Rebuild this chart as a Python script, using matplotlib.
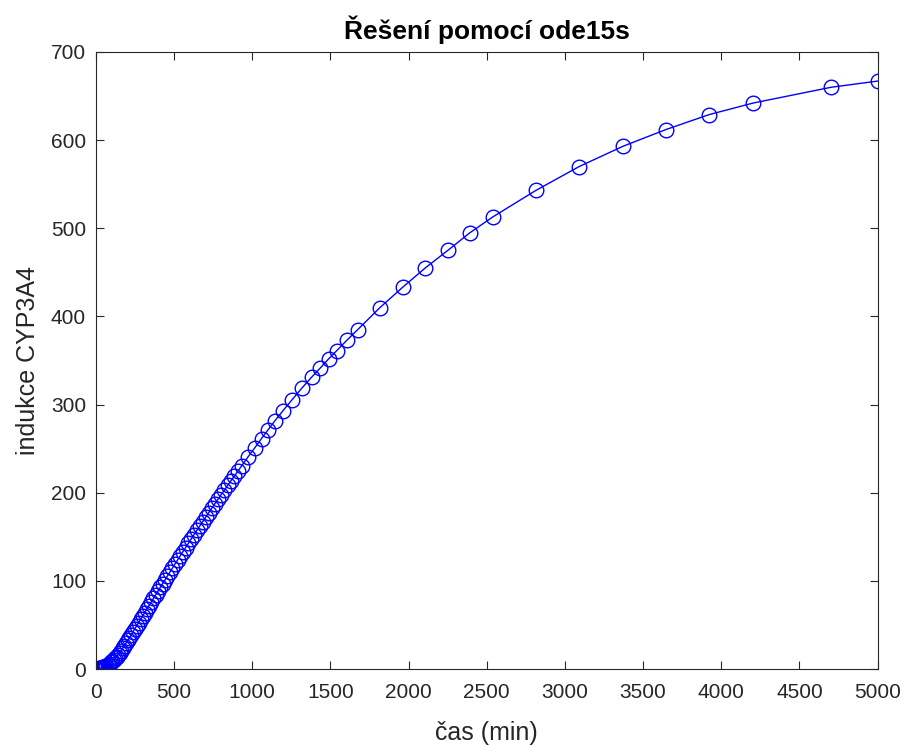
import matplotlib
matplotlib.use('Agg')
import matplotlib.pyplot as plt

# ode15s output points: time (min) and CYP3A4 induction
cas = [0, 0.5, 1, 2, 3, 4, 6, 8, 10, 13, 16, 20, 24, 28, 33, 38, 43, 49, 55,
       61, 68, 75, 82, 90, 98, 106, 115, 124, 133, 142, 152, 162, 172, 182,
       193, 204, 215, 226, 238, 250, 262, 274, 287, 300, 313, 326, 340, 354,
       368, 382, 397, 412, 427, 442, 458, 474, 490, 506, 523, 540, 557, 574,
       592, 610, 628, 646, 665, 684, 703, 722, 742, 762, 782, 802, 823, 844,
       865, 887, 909, 933, 973, 1017, 1060, 1100, 1145, 1197, 1253, 1317,
       1380, 1433, 1490, 1540, 1606, 1675, 1817, 1962, 2107, 2252, 2393, 2540,
       2815, 3091, 3371, 3646, 3923, 4202, 4703, 5000]
indukce = [0.0, 0.0, 0.0, 0.0, 0.05, 0.05, 0.1, 0.15, 0.2, 0.3, 0.45, 0.6,
           0.8, 1.0, 1.2, 1.4, 1.7, 2.1, 2.5, 3.0, 3.6, 4.3, 5.1, 6.2, 7.4,
           8.7, 10.4, 12.2, 14.1, 16.1, 18.5, 21.0, 23.6, 26.3, 29.3, 32.4,
           35.5, 38.7, 42.2, 45.7, 49.2, 52.7, 56.5, 60.3, 64.1, 67.9, 72.0,
           76.0, 80.0, 84.0, 88.3, 92.5, 96.8, 101.0, 105.5, 110.0, 114.5,
           119.0, 123.7, 128.4, 133.1, 137.7, 142.6, 147.5, 152.4, 157.2, 162.3,
           167.3, 172.3, 177.3, 182.5, 187.7, 192.8, 197.9, 203.2, 208.5, 213.7,
           219.1, 224.5, 230.5, 240.5, 251.0, 261.5, 271.0, 281.5, 293.0, 305.0,
           318.5, 331.0, 341.0, 352.0, 361.0, 373.0, 385.0, 410.0, 433.0, 455.0,
           475.0, 495.0, 513.0, 543.0, 570.0, 593.0, 612.0, 629.0, 642.0, 660.0,
           667.0]

plt.rcParams['font.family'] = ['Liberation Sans', 'DejaVu Sans']
text_color = '#262626'

fig = plt.figure(figsize=(9.08, 7.46), dpi=100)
ax = fig.add_axes([0.1055, 0.1032, 0.861, 0.8271])

ax.plot(cas, indukce, color='#0000ff', linewidth=1.0, marker='o',
        markersize=10.5, markerfacecolor='none', markeredgewidth=1.0)

ax.set_xlim(0, 5000)
ax.set_ylim(0, 700)
ax.set_xticks(range(0, 5001, 500))
ax.set_yticks(range(0, 701, 100))
ax.tick_params(direction='in', length=6, width=0.8, top=True, right=True,
               labelsize=15, colors=text_color)
ax.tick_params(axis='x', pad=10)
ax.tick_params(axis='y', pad=7)
for side in ax.spines.values():
    side.set_color(text_color)
    side.set_linewidth(0.8)

ax.set_xlabel('čas (min)', fontsize=18, color=text_color, labelpad=14)
ax.set_ylabel('indukce CYP3A4', fontsize=18, color=text_color, labelpad=8)
ax.set_title('Řešení pomocí ode15s', fontsize=19, fontweight='bold', pad=9)

plt.savefig('out.png', dpi=100)
plt.close()
